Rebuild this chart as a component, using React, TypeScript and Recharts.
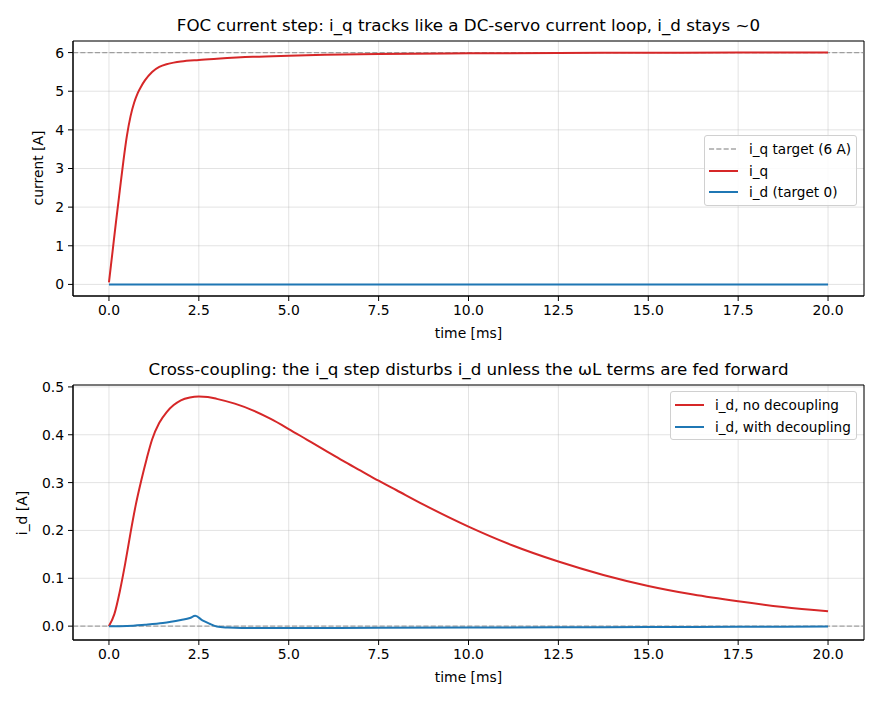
import { LineChart, Line, XAxis, YAxis, CartesianGrid, ReferenceLine, ReferenceArea } from "recharts"

// top panel: q-axis current step
const T_IQ = [0, 0.1, 0.2, 0.3, 0.4, 0.5, 0.6, 0.7, 0.8, 0.9, 1.0, 1.2, 1.4, 1.6, 1.8, 2.0, 2.5, 3.0, 4.0, 5.0, 6.0, 7.5, 10, 12.5, 15, 17.5, 20]
const IQ = [0.05, 0.85, 1.65, 2.42, 3.18, 3.85, 4.35, 4.7, 4.95, 5.13, 5.28, 5.5, 5.63, 5.7, 5.74, 5.77, 5.81, 5.84, 5.89, 5.92, 5.945, 5.965, 5.98, 5.99, 5.995, 6.0, 6.0]
const T_ID_TOP = [0, 20]
const ID_TOP = [0, 0]
const IQ_TARGET = 6

// bottom panel: cross-coupling into i_d
const T_NO_DEC = [0, 0.15, 0.3, 0.45, 0.6, 0.75, 0.9, 1.05, 1.2, 1.4, 1.6, 1.8, 2.0, 2.25, 2.5, 2.75, 3.0, 3.5, 4.0, 4.5, 5.0, 5.5, 6.0, 6.5, 7.0, 7.5, 8.0, 8.75, 10, 11.25, 12.5, 13.75, 15, 16.25, 17.5, 18.75, 20]
const ID_NO_DEC = [0, 0.025, 0.072, 0.13, 0.195, 0.255, 0.305, 0.35, 0.39, 0.425, 0.447, 0.462, 0.472, 0.478, 0.48, 0.479, 0.475, 0.465, 0.451, 0.433, 0.412, 0.39, 0.368, 0.346, 0.325, 0.304, 0.284, 0.254, 0.208, 0.168, 0.135, 0.107, 0.084, 0.066, 0.052, 0.04, 0.031]
const T_DEC = [0, 0.5, 1.0, 1.5, 2.0, 2.25, 2.4, 2.6, 2.8, 3.0, 3.3, 3.7, 5, 7.5, 10, 12.5, 15, 17.5, 20]
const ID_DEC = [0, 0.0005, 0.003, 0.0065, 0.013, 0.017, 0.0215, 0.012, 0.005, -0.001, -0.003, -0.004, -0.004, -0.0035, -0.003, -0.0025, -0.002, -0.0015, -0.001]

const X_TICKS = [0, 2.5, 5, 7.5, 10, 12.5, 15, 17.5, 20]
const Y_TICKS_TOP = [0, 1, 2, 3, 4, 5, 6]
const Y_TICKS_BOTTOM = [0, 0.1, 0.2, 0.3, 0.4, 0.5]

const RED = "#d62728"
const BLUE = "#1f77b4"
const FONT = "'DejaVu Sans', sans-serif"

const toRows = (ts: number[], ys: number[]) => ts.map((t, i) => ({ t, y: ys[i] }))

const tickStyle = { fontSize: 13.9, fill: "#000", fontFamily: FONT }

function LegendBox({ left, top, width, items }: { left: number; top: number; width: number; items: { label: string; color: string; dashed?: boolean }[] }) {
  return (
    <div
      style={{
        position: "absolute",
        left,
        top,
        width,
        border: "1px solid #d0d0d0",
        borderRadius: 3,
        background: "rgba(255,255,255,0.85)",
        padding: "2px 0",
        fontFamily: FONT,
        fontSize: 13.6,
        boxSizing: "border-box",
      }}
    >
      {items.map((it) => (
        <div key={it.label} style={{ display: "flex", alignItems: "center", height: 21.7, whiteSpace: "nowrap" }}>
          <svg width={44} height={10} style={{ flex: "none" }}>
            <line
              x1={4}
              x2={33}
              y1={5}
              y2={5}
              stroke={it.color}
              strokeWidth={it.dashed ? 1.4 : 2}
              strokeDasharray={it.dashed ? "5.1 2.2" : undefined}
            />
          </svg>
          <span>{it.label}</span>
        </div>
      ))}
    </div>
  )
}

const abs = (extra: React.CSSProperties): React.CSSProperties => ({ position: "absolute", fontFamily: FONT, color: "#000", whiteSpace: "nowrap", ...extra })

export default function App() {
  return (
    <div style={{ position: "absolute", left: 0, top: 0, width: 880, height: 704, background: "#fff" }}>
      {/* top panel */}
      <div style={{ position: "absolute", left: 0, top: 0 }}>
        <LineChart width={880} height={352} margin={{ top: 41, right: 16, bottom: 26, left: 13 }}>
          <CartesianGrid stroke="#b0b0b0" strokeOpacity={0.35} strokeWidth={1} />
          <XAxis
            type="number"
            dataKey="t"
            domain={[-1, 21]}
            ticks={X_TICKS}
            tickFormatter={(v: number) => v.toFixed(1)}
            allowDataOverflow
            height={30}
            tick={tickStyle}
            tickSize={5}
            tickMargin={4}
            stroke="#000"
          />
          <YAxis
            type="number"
            domain={[-0.3, 6.3]}
            ticks={Y_TICKS_TOP}
            allowDataOverflow
            width={60}
            tick={tickStyle}
            tickSize={5}
            tickMargin={4}
            stroke="#000"
          />
          <ReferenceLine y={IQ_TARGET} stroke="#808080" strokeOpacity={0.7} strokeWidth={1.4} strokeDasharray="5.1 2.2" />
          <Line data={toRows(T_IQ, IQ)} dataKey="y" type="monotone" stroke={RED} strokeWidth={2} dot={false} isAnimationActive={false} />
          <Line data={toRows(T_ID_TOP, ID_TOP)} dataKey="y" type="linear" stroke={BLUE} strokeWidth={2} dot={false} isAnimationActive={false} />
          <ReferenceArea x1={-1} x2={21} y1={-0.3} y2={6.3} fill="none" stroke="#000" strokeWidth={1} />
        </LineChart>
      </div>
      {/* bottom panel */}
      <div style={{ position: "absolute", left: 0, top: 352 }}>
        <LineChart width={880} height={352} margin={{ top: 33, right: 16, bottom: 34, left: 13 }}>
          <CartesianGrid stroke="#b0b0b0" strokeOpacity={0.35} strokeWidth={1} />
          <XAxis
            type="number"
            dataKey="t"
            domain={[-1, 21]}
            ticks={X_TICKS}
            tickFormatter={(v: number) => v.toFixed(1)}
            allowDataOverflow
            height={30}
            tick={tickStyle}
            tickSize={5}
            tickMargin={4}
            stroke="#000"
          />
          <YAxis
            type="number"
            domain={[-0.029, 0.504]}
            ticks={Y_TICKS_BOTTOM}
            tickFormatter={(v: number) => v.toFixed(1)}
            allowDataOverflow
            width={60}
            tick={tickStyle}
            tickSize={5}
            tickMargin={4}
            stroke="#000"
          />
          <ReferenceLine y={0} stroke="#808080" strokeOpacity={0.7} strokeWidth={1.4} strokeDasharray="5.1 2.2" />
          <Line data={toRows(T_NO_DEC, ID_NO_DEC)} dataKey="y" type="monotone" stroke={RED} strokeWidth={2} dot={false} isAnimationActive={false} />
          <Line data={toRows(T_DEC, ID_DEC)} dataKey="y" type="monotone" stroke={BLUE} strokeWidth={2} dot={false} isAnimationActive={false} />
          <ReferenceArea x1={-1} x2={21} y1={-0.029} y2={0.504} fill="none" stroke="#000" strokeWidth={1} />
        </LineChart>
      </div>

      {/* titles and axis labels */}
      <div style={abs({ left: 73, width: 791, top: 15, textAlign: "center", fontSize: 16.7 })}>
        FOC current step: i_q tracks like a DC-servo current loop, i_d stays ~0
      </div>
      <div style={abs({ left: 73, width: 791, top: 359, textAlign: "center", fontSize: 16.7 })}>
        Cross-coupling: the i_q step disturbs i_d unless the ωL terms are fed forward
      </div>
      <div style={abs({ left: 73, width: 791, top: 325, textAlign: "center", fontSize: 13.9 })}>time [ms]</div>
      <div style={abs({ left: 73, width: 791, top: 669, textAlign: "center", fontSize: 13.9 })}>time [ms]</div>
      <div style={abs({ left: 38, top: 168, fontSize: 13.9, transform: "translate(-50%, -50%) rotate(-90deg)" })}>current [A]</div>
      <div style={abs({ left: 22, top: 513, fontSize: 13.9, transform: "translate(-50%, -50%) rotate(-90deg)" })}>i_d [A]</div>

      <LegendBox
        left={704}
        top={135}
        width={153}
        items={[
          { label: "i_q target (6 A)", color: "rgba(128,128,128,0.7)", dashed: true },
          { label: "i_q", color: RED },
          { label: "i_d (target 0)", color: BLUE },
        ]}
      />
      <LegendBox
        left={670}
        top={391}
        width={187}
        items={[
          { label: "i_d, no decoupling", color: RED },
          { label: "i_d, with decoupling", color: BLUE },
        ]}
      />
    </div>
  )
}
